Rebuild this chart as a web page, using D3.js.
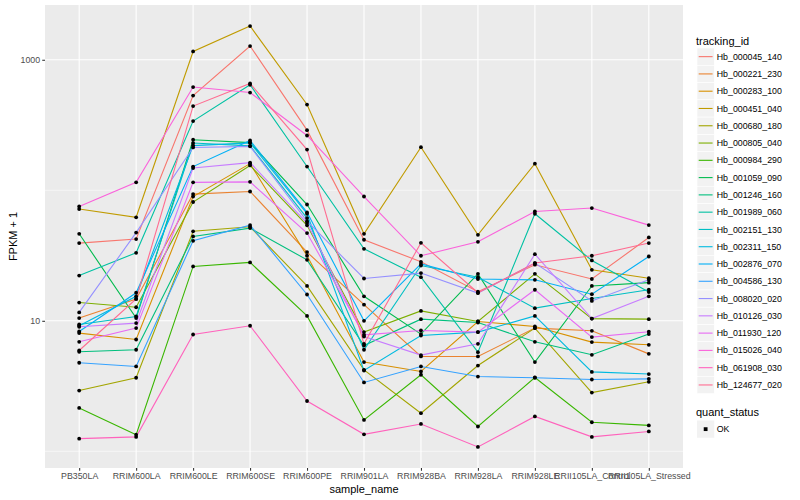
<!DOCTYPE html>
<html><head><meta charset="utf-8">
<script src="https://cdn.jsdelivr.net/npm/d3@7"></script>
<style>body{margin:0;background:#fff} text{font-family:"Liberation Sans",Arial,Helvetica,sans-serif}</style>
</head><body><svg id="c" width="800" height="500"></svg>
<script>
const samples = ["PB350LA","RRIM600LA","RRIM600LE","RRIM600SE","RRIM600PE","RRIM901LA","RRIM928BA","RRIM928LA","RRIM928LE","RRII105LA_Control","RRII105LA_Stressed"];
const trackingIds = ["Hb_000045_140","Hb_000221_230","Hb_000283_100","Hb_000451_040","Hb_000680_180","Hb_000805_040","Hb_000984_290","Hb_001059_090","Hb_001246_160","Hb_001989_060","Hb_002151_130","Hb_002311_150","Hb_002876_070","Hb_004586_130","Hb_008020_020","Hb_010126_030","Hb_011930_120","Hb_015026_040","Hb_061908_030","Hb_124677_020"];
const seriesColors = ["#F8766D","#EA8331","#D89000","#C09B00","#A3A500","#7CAE00","#39B600","#00BB4E","#00BF7D","#00C1A3","#00BFC4","#00BAE0","#00B0F6","#35A2FF","#9590FF","#C77CFF","#E76BF3","#FA62DB","#FF62BC","#FF6C91"];
const quantLevels = ["OK"];
const yBreaks = [10, 1000];
const yMinorBreaks = [1, 100];

// FPKM + 1 per sample, one array per tracking_id
const hb_000045_140 = [39.4, 42.3, 532, 1274, 289, 41.8, 28.3, 16.7, 26.9, 20.9, 43.5];
const hb_000221_230 = [10.5, 14.7, 93.5, 97.9, 33.6, 13.3, 5.33, 5.33, 8.79, 8.38, 5.58];
const hb_000283_100 = [8.05, 7.19, 89.6, 160, 31.5, 4.83, 4.09, 9.88, 9.04, 6.87, 6.55];
const hb_000451_040 = [71.8, 62.1, 1158, 1813, 454, 46.4, 214, 45.6, 160, 24.6, 21.2];
const hb_000680_180 = [2.92, 3.66, 48.5, 52.5, 18.5, 4.21, 1.96, 4.54, 8.79, 2.82, 3.41];
const hb_000805_040 = [13.8, 12.7, 81.3, 155, 53.9, 8.19, 11.9, 9.88, 22.9, 10.4, 10.3];
const hb_000984_290 = [2.15, 1.34, 26.1, 28.0, 10.9, 1.74, 3.86, 1.55, 3.68, 1.67, 1.58];
const hb_001059_090 = [46.4, 10.5, 244, 232, 77.8, 15.4, 7.91, 22.9, 4.83, 18.5, 19.6];
const hb_001246_160 = [5.79, 6.0, 44.3, 51.3, 29.3, 6.47, 10.3, 9.70, 6.90, 5.49, 7.91];
const hb_001989_060 = [22.2, 33.2, 339, 643, 152, 35.6, 21.6, 5.75, 66.1, 29.0, 16.6];
const hb_002151_130 = [9.37, 10.8, 230, 219, 61.2, 6.0, 26.5, 21.6, 12.5, 14.8, 17.3];
const hb_002311_150 = [9.16, 15.4, 220, 231, 66.1, 4.16, 7.71, 8.19, 10.9, 4.06, 3.91];
const hb_002876_070 = [8.28, 16.4, 152, 241, 67.8, 10.0, 27.3, 20.9, 20.6, 16.0, 31.1];
const hb_004586_130 = [4.77, 4.47, 41.0, 54.1, 15.9, 3.37, 4.47, 3.74, 3.66, 3.55, 3.59];
const hb_008020_020 = [11.6, 47.4, 213, 217, 57.9, 21.1, 23.2, 16.3, 27.7, 14.2, 20.6];
const hb_010126_030 = [9.0, 9.6, 148, 163, 56.1, 7.58, 5.46, 6.66, 32.4, 10.4, 15.4];
const hb_011930_120 = [6.9, 8.79, 115, 116, 47.0, 7.81, 8.43, 8.19, 17.3, 7.50, 8.24];
const hb_015026_040 = [75.2, 115, 618, 561, 263, 89.6, 31.5, 40.3, 68.8, 73.1, 54.1];
const hb_061908_030 = [1.25, 1.29, 7.85, 9.16, 2.43, 1.35, 1.62, 1.08, 1.85, 1.29, 1.42];
const hb_124677_020 = [5.92, 14.7, 442, 658, 205, 6.66, 39.6, 16.4, 27.7, 31.5, 39.4];

const seriesValues = [hb_000045_140, hb_000221_230, hb_000283_100, hb_000451_040, hb_000680_180, hb_000805_040, hb_000984_290, hb_001059_090, hb_001246_160, hb_001989_060, hb_002151_130, hb_002311_150, hb_002876_070, hb_004586_130, hb_008020_020, hb_010126_030, hb_011930_120, hb_015026_040, hb_061908_030, hb_124677_020];

const series = trackingIds.map((id, i) => ({
  id, color: seriesColors[i],
  points: samples.map((s, j) => ({sample: s, value: seriesValues[i][j]}))
}));

const svg = d3.select("#c");
const P = {l: 45, r: 683, t: 5, b: 468};

const x = d3.scalePoint().domain(samples).range([P.l, P.r]).padding(0.6);
const allVals = seriesValues.flat();
const lmin = Math.log10(d3.min(allVals)), lmax = Math.log10(d3.max(allVals));
const ex = (lmax - lmin) * 0.05;
const y = d3.scaleLog().domain([Math.pow(10, lmin - ex), Math.pow(10, lmax + ex)]).range([P.b, P.t]);

// panel
svg.append("rect").attr("x", P.l).attr("y", P.t).attr("width", P.r - P.l).attr("height", P.b - P.t).attr("fill", "#EBEBEB");
const grid = svg.append("g");
yMinorBreaks.forEach(v => grid.append("line").attr("x1", P.l).attr("x2", P.r).attr("y1", y(v)).attr("y2", y(v)).attr("stroke", "#fff").attr("stroke-width", 0.55));
yBreaks.forEach(v => grid.append("line").attr("x1", P.l).attr("x2", P.r).attr("y1", y(v)).attr("y2", y(v)).attr("stroke", "#fff").attr("stroke-width", 1.1));
samples.forEach(s => grid.append("line").attr("x1", x(s)).attr("x2", x(s)).attr("y1", P.t).attr("y2", P.b).attr("stroke", "#fff").attr("stroke-width", 1.1));

// lines
const line = d3.line().x(d => x(d.sample)).y(d => y(d.value));
svg.append("g").selectAll("path").data(series).join("path")
  .attr("d", d => line(d.points)).attr("fill", "none")
  .attr("stroke", d => d.color).attr("stroke-width", 1.1);

// points
svg.append("g").selectAll("g").data(series).join("g")
  .selectAll("circle").data(d => d.points).join("circle")
  .attr("cx", d => x(d.sample)).attr("cy", d => y(d.value)).attr("r", 1.9).attr("fill", "#000");

// axes
const xAxis = d3.axisBottom(x).tickSize(2.75).tickPadding(2.5);
const gx = svg.append("g").attr("transform", `translate(0,${P.b})`).call(xAxis);
gx.select(".domain").remove();
gx.selectAll(".tick line").attr("stroke", "#333").attr("stroke-width", 1.07);
gx.selectAll(".tick text").attr("fill", "#4D4D4D").style("font-size", "8.8px").attr("dy", "0.71em")
  .style("font-family", '"Liberation Sans",Arial,sans-serif');

const yAxis = d3.axisLeft(y).tickValues(yBreaks).tickFormat(d3.format("d")).tickSize(2.75).tickPadding(2.2);
const gy = svg.append("g").attr("transform", `translate(${P.l},0)`).call(yAxis);
gy.select(".domain").remove();
gy.selectAll(".tick line").attr("stroke", "#333").attr("stroke-width", 1.07);
gy.selectAll(".tick text").attr("fill", "#4D4D4D").style("font-size", "8.8px")
  .style("font-family", '"Liberation Sans",Arial,sans-serif');

svg.append("text").attr("x", (P.l + P.r) / 2).attr("y", 493).attr("text-anchor", "middle")
  .style("font-size", "11px").attr("fill", "#000").text("sample_name");
svg.append("text").attr("transform", `translate(16.5,${(P.t + P.b) / 2}) rotate(-90)`).attr("text-anchor", "middle")
  .style("font-size", "11px").attr("fill", "#000").text("FPKM + 1");

// legend
const lg = svg.append("g");
const kx = 697, k0 = 48, ks = 17.28;
lg.append("text").attr("x", 696).attr("y", 44.5).style("font-size", "11px").attr("fill", "#000").text("tracking_id");
series.forEach((s, i) => {
  const ky = k0 + i * ks;
  lg.append("rect").attr("x", kx).attr("y", ky).attr("width", ks).attr("height", ks).attr("fill", "#F2F2F2").attr("stroke", "#fff").attr("stroke-width", 0.6);
  lg.append("line").attr("x1", kx + 1.7).attr("x2", kx + ks - 1.7).attr("y1", ky + ks / 2).attr("y2", ky + ks / 2).attr("stroke", s.color).attr("stroke-width", 1.1);
  lg.append("text").attr("x", kx + ks + 2.5).attr("y", ky + ks / 2).attr("dy", "0.35em").style("font-size", "8.8px").attr("fill", "#000").text(s.id);
});
lg.append("text").attr("x", 696).attr("y", 416).style("font-size", "11px").attr("fill", "#000").text("quant_status");
quantLevels.forEach((q, i) => {
  const ky = 420.5 + i * ks;
  lg.append("rect").attr("x", kx).attr("y", ky).attr("width", ks).attr("height", ks).attr("fill", "#F2F2F2");
  lg.append("rect").attr("x", kx + ks / 2 - 1.9).attr("y", ky + ks / 2 - 1.9).attr("width", 3.8).attr("height", 3.8).attr("fill", "#000");
  lg.append("text").attr("x", kx + ks + 2.5).attr("y", ky + ks / 2).attr("dy", "0.35em").style("font-size", "8.8px").attr("fill", "#000").text(q);
});
</script></body></html>
